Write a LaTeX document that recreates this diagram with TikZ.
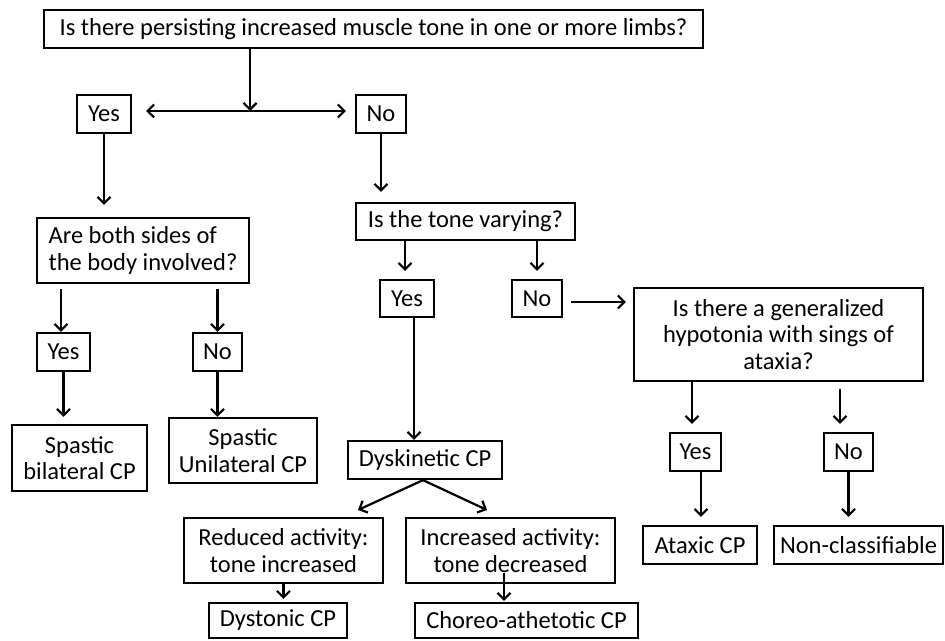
\documentclass[tikz,border=0pt]{standalone}
\usepackage{fontspec}
\setmainfont{Carlito}
\usetikzlibrary{arrows.meta}
\begin{document}
\begin{tikzpicture}[x=1pt,y=-1pt,
  box/.style={draw,line width=2.2pt,inner sep=0pt,align=center,font=\fontsize{24.5}{26.5}\selectfont},
  arr/.style={line width=2.2pt,-{Straight Barb[length=6.5pt,width=13pt,line width=2.2pt]}}]
\useasboundingbox[fill=white] (0,0) rectangle (945,640);
% nodes
\node[box,minimum width=659,minimum height=38] (top) at (373.5,29) {Is there persisting increased muscle tone in one or more limbs?};
\node[box,minimum width=54,minimum height=38] (yes1) at (104,114) {Yes};
\node[box,minimum width=50,minimum height=38] (no1) at (381,114) {No};
\node[box,minimum width=212,minimum height=65,align=left] (both) at (143,250.5) {Are both sides of\\the body involved?};
\node[box,minimum width=53,minimum height=38] (yes2) at (63.5,352) {Yes};
\node[box,minimum width=49,minimum height=38] (no2) at (217.5,352) {No};
\node[box,minimum width=135,minimum height=66] (bil) at (79.5,458) {Spastic\\bilateral CP};
\node[box,minimum width=148,minimum height=65] (uni) at (243,450.5) {Spastic\\Unilateral CP};
\node[box,minimum width=219,minimum height=37] (tone) at (465.5,221.5) {Is the tone varying?};
\node[box,minimum width=54,minimum height=37] (yes3) at (407,298.5) {Yes};
\node[box,minimum width=50,minimum height=37] (no3) at (537,298.5) {No};
\node[box,minimum width=289,minimum height=93] (hypo) at (778.5,334.5) {Is there a generalized\\hypotonia with sings of\\ataxia?};
\node[box,minimum width=51,minimum height=38] (yes4) at (695.5,452) {Yes};
\node[box,minimum width=49,minimum height=38] (no4) at (848.5,452) {No};
\node[box,minimum width=114,minimum height=38] (atax) at (700,545) {Ataxic CP};
\node[box,minimum width=169,minimum height=38] (noncl) at (858.5,545) {Non-classifiable};
\node[box,minimum width=154,minimum height=38] (dysk) at (425,460) {Dyskinetic CP};
\node[box,minimum width=199,minimum height=65] (red) at (283.5,550.5) {Reduced activity:\\tone increased};
\node[box,minimum width=209,minimum height=65] (inc) at (510.5,550.5) {Increased activity:\\tone decreased};
\node[box,minimum width=138,minimum height=35] (dyst) at (278,620.5) {Dystonic CP};
\node[box,minimum width=223,minimum height=35] (cho) at (526.5,620.5) {Choreo-athetotic CP};
% connectors
\coordinate (j) at (250,111);
\coordinate (dl) at (358,510);
\coordinate (dr) at (487,510);
\draw[arr] (top.south -| j) -- (j);
\draw[arr,shorten >=14pt] (j) -- (j -| yes1.east);
\draw[arr,shorten >=9pt] (j) -- (j -| no1.west);
\draw[arr,shorten >=12pt] (yes1.south) -- (yes1.south |- both.north);
\draw[arr,shorten >=10pt] (no1.south) -- (no1.south |- tone.north);
\draw[arr,shorten <=5pt] ([xshift=-2.5pt]yes2.north |- both.south) -- ([xshift=-2.5pt]yes2.north);
\draw[arr,shorten <=5pt] (no2.north |- both.south) -- (no2.north);
\draw[arr,shorten >=7pt] (yes2.south) -- (yes2.south |- bil.north);
\draw[arr] (no2.south) -- (no2.south |- uni.north);
\draw[arr,shorten >=8pt] ([xshift=-2pt]yes3.north |- tone.south) -- ([xshift=-2pt]yes3.north);
\draw[arr,shorten >=8pt] (no3.north |- tone.south) -- (no3.north);
\draw[arr] ([xshift=7pt]yes3.south) -- ([xshift=7pt]yes3.south |- dysk.north);
\draw[arr,shorten <=8pt,shorten >=7pt] ([yshift=-3.5pt]no3.east) -- ([yshift=-3.5pt]no3.east -| hypo.west);
\draw[arr,shorten >=8pt] ([xshift=-3.5pt]yes4.north |- hypo.south) -- ([xshift=-3.5pt]yes4.north);
\draw[arr,shorten <=7pt,shorten >=8pt] ([xshift=-8.5pt]no4.north |- hypo.south) -- ([xshift=-8.5pt]no4.north);
\draw[arr,shorten >=8pt] ([xshift=5.5pt]yes4.south) -- ([xshift=5.5pt]yes4.south |- atax.north);
\draw[arr,shorten >=8pt] (no4.south) -- (no4.south |- noncl.north);
\draw[arr] ([xshift=-2pt]dysk.south) -- (dl);
\draw[arr] ([xshift=-2pt]dysk.south) -- (dr);
\draw[arr,shorten >=3pt] (red.south) -- (red.south |- dyst.north);
\draw[arr,shorten >=1pt] ([xshift=-6.5pt,yshift=11pt]inc.south) -- ([xshift=-6.5pt]inc.south |- cho.north);
\end{tikzpicture}
\end{document}
